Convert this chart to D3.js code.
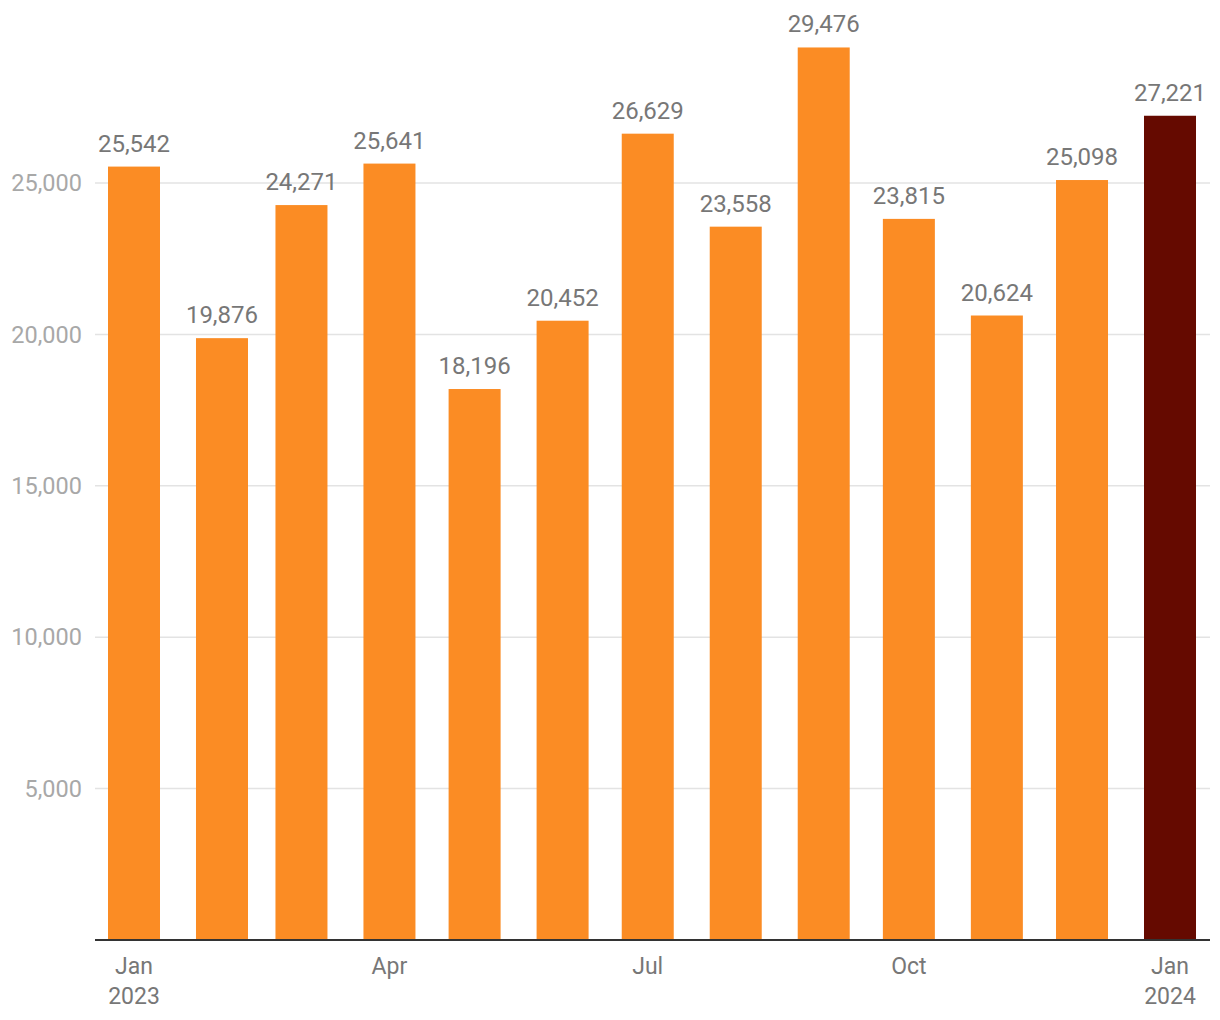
<!DOCTYPE html>
<html>
<head>
<meta charset="utf-8">
<script src="https://cdn.jsdelivr.net/npm/d3@7"></script>
<style>
  body { margin: 0; background: #fff; }
  svg text { font-family: Roboto, "Noto Sans", sans-serif; }
</style>
</head>
<body>
<svg id="chart" width="1220" height="1020"></svg>
<script>
// monthly values, Jan 2023 .. Jan 2024
var months = ["2023-01","2023-02","2023-03","2023-04","2023-05","2023-06","2023-07",
              "2023-08","2023-09","2023-10","2023-11","2023-12","2024-01"];
var values = [25542, 19876, 24271, 25641, 18196, 20452, 26629,
              23558, 29476, 23815, 20624, 25098, 27221];
var yTicks = [5000, 10000, 15000, 20000, 25000];
var xTicks = [["2023-01","Jan","2023"],["2023-04","Apr",""],["2023-07","Jul",""],
              ["2023-10","Oct",""],["2024-01","Jan","2024"]];

var parse = d3.timeParse("%Y-%m");
var svg = d3.select("#chart");
var fmt = d3.format(",");

var x = d3.scaleTime()
  .domain([parse("2023-01"), parse("2024-01")])
  .range([134, 1170]);

var y = d3.scaleLinear()
  .domain([0, 25000])
  .range([940, 183]);

var barW = 52;

// gridlines + y labels
var grid = svg.append("g");
grid.selectAll("line").data(yTicks).enter().append("line")
  .attr("x1", 95).attr("x2", 1210)
  .attr("y1", function(d) { return y(d); })
  .attr("y2", function(d) { return y(d); })
  .attr("stroke", "#e3e3e3").attr("stroke-width", 1.5);

grid.selectAll("text").data(yTicks).enter().append("text")
  .attr("x", 82)
  .attr("y", function(d) { return y(d); })
  .attr("dy", "0.35em")
  .attr("text-anchor", "end")
  .attr("font-size", 23.5)
  .attr("fill", "#a8a8a8")
  .text(function(d) { return fmt(d); });

// bars
var data = months.map(function(m, i) { return {date: parse(m), value: values[i], last: i === months.length - 1}; });

svg.append("g").selectAll("rect").data(data).enter().append("rect")
  .attr("x", function(d) { return x(d.date) - barW / 2; })
  .attr("width", barW)
  .attr("y", function(d) { return y(d.value); })
  .attr("height", function(d) { return y(0) - y(d.value); })
  .attr("fill", function(d) { return d.last ? "#650a00" : "#fb8c24"; });

svg.append("g").selectAll("text").data(data).enter().append("text")
  .attr("x", function(d) { return x(d.date); })
  .attr("y", function(d) { return y(d.value) - 15; })
  .attr("text-anchor", "middle")
  .attr("font-size", 24)
  .attr("fill", "#777")
  .text(function(d) { return fmt(d.value); });

// baseline
svg.append("line")
  .attr("x1", 95).attr("x2", 1210)
  .attr("y1", y(0)).attr("y2", y(0))
  .attr("stroke", "#333").attr("stroke-width", 2);

// x labels
var xl = svg.append("g").selectAll("text").data(xTicks).enter().append("text")
  .attr("x", function(d) { return x(parse(d[0])); })
  .attr("text-anchor", "middle")
  .attr("font-size", 23)
  .attr("fill", "#777");
xl.append("tspan").attr("x", function(d) { return x(parse(d[0])); }).attr("y", 974).text(function(d) { return d[1]; });
xl.append("tspan").attr("x", function(d) { return x(parse(d[0])); }).attr("y", 1004).text(function(d) { return d[2]; });
</script>
</body>
</html>
